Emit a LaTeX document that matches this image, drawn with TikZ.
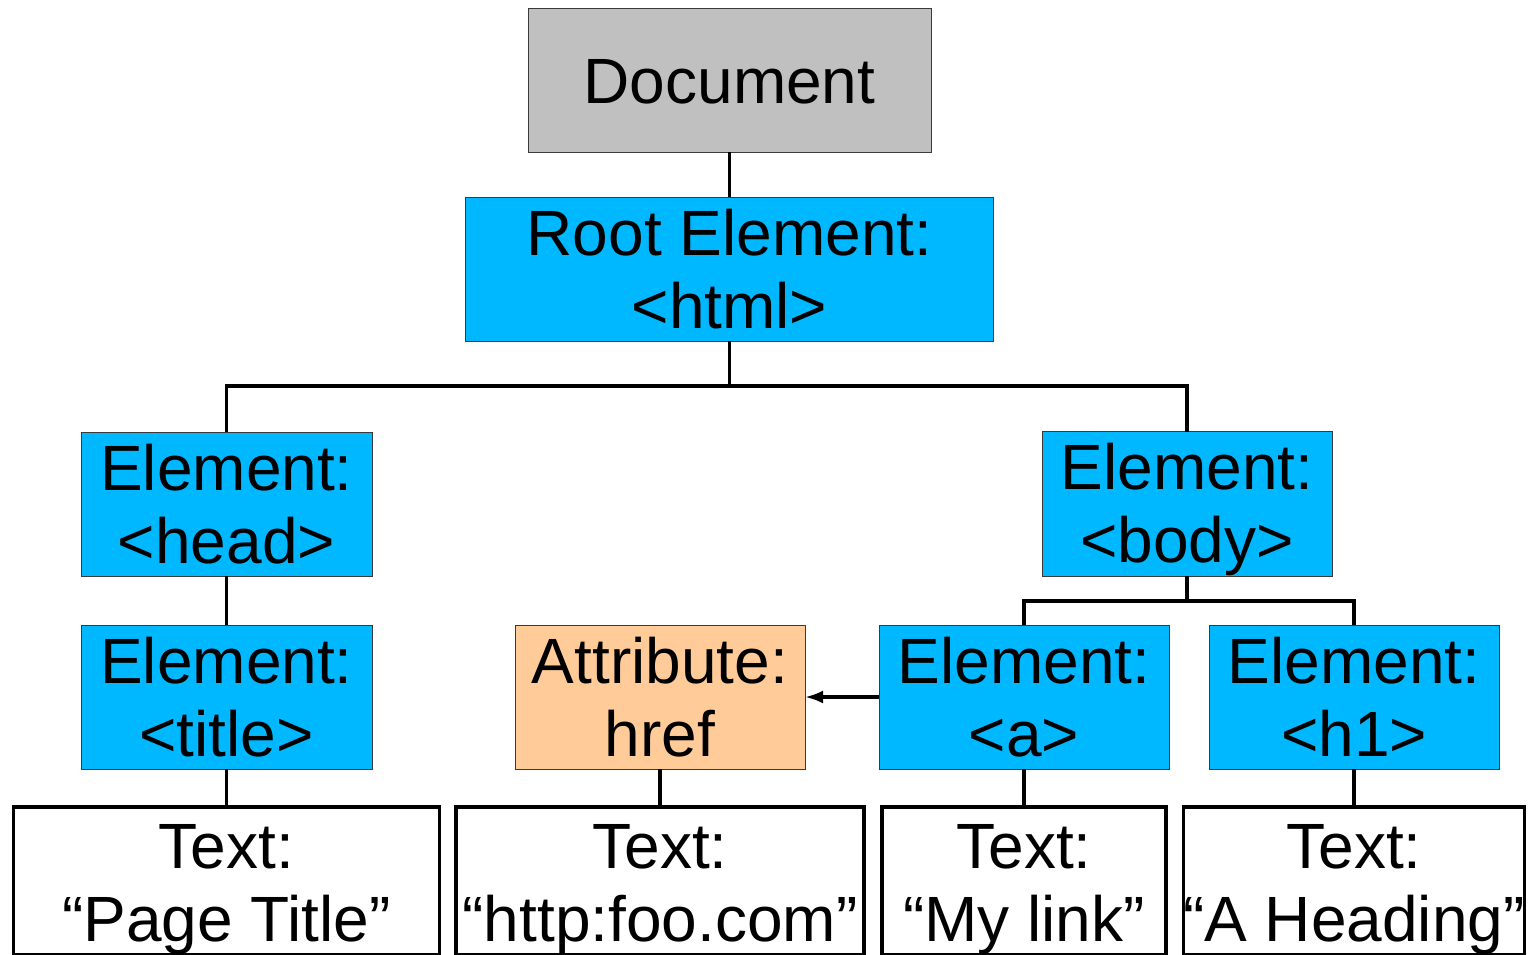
\documentclass[tikz,border=0pt]{standalone}
\usepackage{fontspec}
\setmainfont{Liberation Sans}
\usetikzlibrary{arrows.meta}
\definecolor{docgray}{HTML}{C0C0C0}
\definecolor{elblue}{HTML}{00B8FF}
\definecolor{attrpeach}{HTML}{FFCC99}
\definecolor{edgegray}{HTML}{3A3A3A}
% two centred lines with fixed first-baseline and bottom space
\newcommand\twolines[2]{\rule{0pt}{58pt}#1\\#2\rule[-13pt]{0pt}{13pt}}
\newcommand\twolineslow[2]{\rule{0pt}{62pt}#1\\#2\rule[-9pt]{0pt}{9pt}}
\begin{document}
\begin{tikzpicture}[x=1pt,y=-1pt,
  box/.style={rectangle, inner sep=0pt, outer sep=0pt, align=center,
    font=\fontsize{64}{73}\selectfont, minimum height=144pt},
  docbox/.style={box, fill=docgray, draw=edgegray, line width=1pt,
    text height=47pt, text depth=0pt},
  elembox/.style={box, fill=elblue, draw=edgegray, line width=1pt},
  attrbox/.style={box, fill=attrpeach, draw=edgegray, line width=1pt},
  textbox/.style={box, fill=white, draw=black, line width=3.4pt},
  link/.style={draw=black, line width=3.3pt},
  attrlink/.style={link, -{Latex[length=18pt,width=13pt]}}
]
\useasboundingbox (0,0) rectangle (1528,954);

% document and root
\node[docbox, minimum width=403pt] (doc) at (729.5,80) {Document};
\node[elembox, minimum width=528pt] (root) at (729.5,269) {\twolines{Root Element:}{<html>}};

% second level
\node[elembox, minimum width=291pt] (head) at (226.5,504) {\twolines{Element:}{<head>}};
\node[elembox, minimum width=290pt] (body) at (1187,504) {\twolines{Element:}{<body>}};

% third level
\node[elembox, minimum width=291pt] (title) at (226.5,697) {\twolines{Element:}{<title>}};
\node[attrbox, minimum width=290pt] (attr) at (660,697) {\twolines{Attribute:}{href}};
\node[elembox, minimum width=290pt] (a) at (1024,697) {\twolines{Element:}{<a>}};
\node[elembox, minimum width=290pt] (h1) at (1354,697) {\twolines{Element:}{<h1>}};

% text leaves
\node[textbox, minimum width=426pt] (t1) at (226.5,881) {\twolineslow{Text:}{“Page Title”}};
\node[textbox, minimum width=408pt] (t2) at (660,881) {\twolineslow{Text:}{“http:foo.com”}};
\node[textbox, minimum width=284pt] (t3) at (1024,881) {\twolineslow{Text:}{“My link”}};
\node[textbox, minimum width=340pt] (t4) at (1354,881) {\twolineslow{Text:}{“A Heading”}};

% branch points
\coordinate (bus1) at (729.5,386);
\coordinate (bus2) at (1187,601);

% connectors
\draw[link] (doc.south) -- (root.north);
\draw[link] (root.south) -- (bus1);
\draw[link] (head.north) |- (bus1) -| (body.north);
\draw[link] (head.south) -- (title.north);
\draw[link] (body.south) -- (bus2);
\draw[link] (a.north) |- (bus2) -| (h1.north);
\draw[link] (title.south) -- (t1.north);
\draw[link] (attr.south) -- (t2.north);
\draw[link] (a.south) -- (t3.north);
\draw[link] (h1.south) -- (t4.north);
\draw[attrlink] (a.west) -- (attr.east);
\end{tikzpicture}
\end{document}
